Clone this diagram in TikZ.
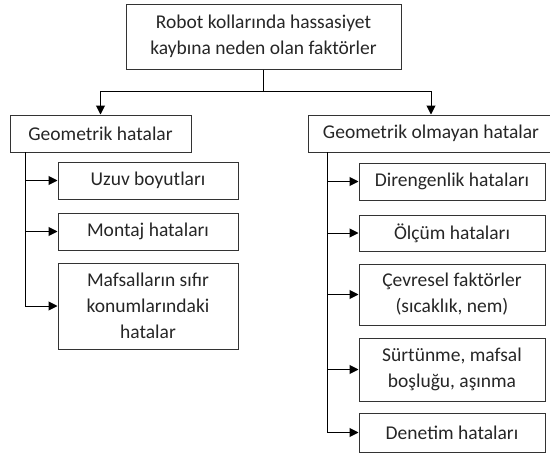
\documentclass[tikz,border=0pt]{standalone}
\usepackage{fontspec}
\setmainfont{Carlito}
\usetikzlibrary{arrows.meta}

\begin{document}
\begin{tikzpicture}[x=1pt, y=-1pt,
    box/.style={draw=black!80, line width=1pt, inner sep=0pt, align=center,
        font=\fontsize{19.5}{26}\selectfont, text=black!85},
    arr/.style={line width=1pt, -{Triangle[length=9pt, width=9pt]}}]
    \useasboundingbox (0,0) rectangle (550,453);
    \clip (0,0) rectangle (550,453);
    \node[box, minimum width=275pt, minimum height=65pt] (top) at (263.5,36.5) {Robot kollarında hassasiyet\\kaybına neden olan faktörler};
    \node[box, minimum width=181pt, minimum height=37pt] (geo) at (100.5,133.5) {Geometrik hatalar};
    \node[box, minimum width=246pt, minimum height=37pt] (nongeo) at (431,133.5) {Geometrik olmayan hatalar};
    \node[box, minimum width=180pt, minimum height=37pt] (uzuv) at (148,180.5) {Uzuv boyutları};
    \node[box, minimum width=180pt, minimum height=37pt] (montaj) at (148,231.5) {Montaj hataları};
    \node[box, minimum width=180pt, minimum height=86pt] (mafsal) at (148,306) {Mafsalların sıfır\\konumlarındaki\\hatalar};
    \node[box, minimum width=186pt, minimum height=37pt] (direng) at (452,181.5) {Direngenlik hataları};
    \node[box, minimum width=186pt, minimum height=36pt] (olcum) at (452,233) {Ölçüm hataları};
    \node[box, minimum width=186pt, minimum height=61pt] (cevre) at (452,294.5) {Çevresel faktörler\\(sıcaklık, nem)};
    \node[box, minimum width=186pt, minimum height=63pt] (surt) at (452,369.5) {Sürtünme, mafsal\\boşluğu, aşınma};
    \node[box, minimum width=186pt, minimum height=39pt] (denet) at (452,432.5) {Denetim hataları};
    \coordinate (split) at (263.5,91);
    \coordinate (gtrunk) at (25,152);
    \coordinate (ntrunk) at (327,152);
    \draw[line width=1pt] (top.south) -- (split);
    \draw[arr] (split) -| (geo.north);
    \draw[arr] (split) -| (nongeo.north);
    \foreach \n in {uzuv,montaj,mafsal}
        \draw[arr] (gtrunk) |- (\n.west);
    \foreach \n in {direng,olcum,cevre,surt,denet}
        \draw[arr] (ntrunk) |- (\n.west);
\end{tikzpicture}
\end{document}
